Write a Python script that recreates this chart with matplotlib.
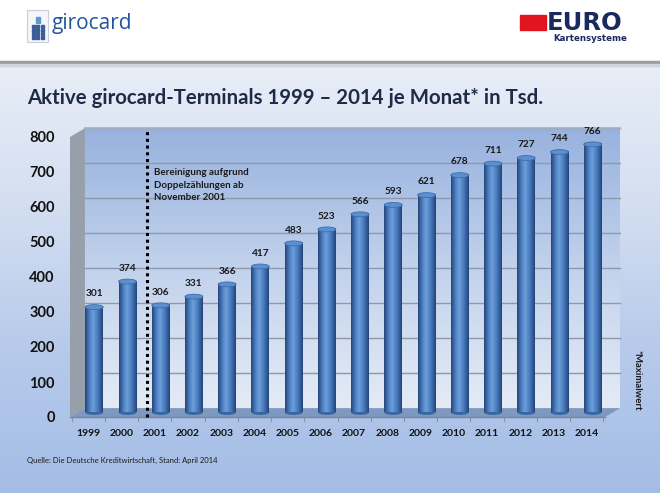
import numpy as np
import matplotlib
matplotlib.use("Agg")
import matplotlib.pyplot as plt
from matplotlib.patches import Polygon, Rectangle, Ellipse
from matplotlib.colors import LinearSegmentedColormap

plt.rcParams['font.family'] = ['Lato', 'DejaVu Sans']

years = ['1999', '2000', '2001', '2002', '2003', '2004', '2005', '2006',
         '2007', '2008', '2009', '2010', '2011', '2012', '2013', '2014']
values = [301, 374, 306, 331, 366, 417, 483, 523, 566, 593, 621, 678, 711, 727, 744, 766]
yticks = [0, 100, 200, 300, 400, 500, 600, 700, 800]

title = "Aktive girocard-Terminals 1999 \u2013 2014 je Monat* in Tsd."
note = "Bereinigung aufgrund\nDoppelzählungen ab\nNovember 2001"
source = "Quelle: Die Deutsche Kreditwirtschaft, Stand: April 2014"

W, H = 660, 493
fig = plt.figure(figsize=(W / 100, H / 100), dpi=100)

# ---- background ----
bg = fig.add_axes([0, 0, 1, 1], zorder=0)
bg.set_xlim(0, W); bg.set_ylim(H, 0); bg.axis('off')
grad = np.linspace(0, 1, 256)[:, None]
bgcmap = LinearSegmentedColormap.from_list('bg', ['#E9EEF7', '#D3DEF1', '#B7CAEB', '#A4BDE6'])
bg.imshow(grad, extent=[0, W, H, 64], cmap=bgcmap, aspect='auto', zorder=0)
bg.add_patch(Rectangle((0, 0), W, 62, color='white', zorder=1))
bg.add_patch(Rectangle((0, 61), W, 3, color='#9C9C9C', zorder=2))
bg.add_patch(Rectangle((0, 64), W, 2, color='#D0D5DC', zorder=2))

# girocard logo
bg.add_patch(Rectangle((27, 10), 21, 32, facecolor='#F4F6FA', edgecolor='#C8CDD6', lw=0.8, zorder=3))
bg.add_patch(Rectangle((36, 17), 4, 6, color='#5C9AD6', zorder=4))
for r in range(4):
    for c in range(3):
        bg.add_patch(Rectangle((31.5 + c * 4.5, 25 + r * 3.8), 3.2, 2.8, color='#3B5E9A', zorder=4))
bg.text(52, 24, 'girocard', fontsize=15, color='#21569E', va='center', ha='left',
        family=['Open Sans', 'DejaVu Sans'], zorder=5)

# EURO logo
bg.add_patch(Rectangle((520, 15), 26, 15, color='#E2141F', zorder=3))
bg.text(547, 23, 'EURO', fontsize=17.5, color='#1B2A5E', weight='heavy', va='center', ha='left',
        family=['DejaVu Sans'], zorder=5)
bg.text(590, 38.5, 'Kartensysteme', fontsize=6.2, color='#1B2A5E', weight='bold', va='center', ha='center',
        family=['DejaVu Sans'], zorder=5)

# titles / notes
fig.text(27 / W, 1 - 98 / H, title, fontsize=14.7, weight='bold', color='#1E2B47', va='center', ha='left')
fig.text(27 / W, 1 - 460 / H, source, fontsize=5.5, color='#1A1A1A', va='center', ha='left')
fig.text(637 / W, 1 - 380 / H, '*Maximalwert', fontsize=6.8, weight='bold', color='#1A1A1A',
         va='center', ha='center', rotation=270)

# ---- chart axes ----
x0, x1 = -0.55, 15.55
ax = fig.add_axes([70 / W, 1 - 417 / H, 535 / W, 280 / H], zorder=2)
ax.patch.set_alpha(0)
n = len(years)
xs = np.arange(n)
dx, dy = 0.45, 25.0   # depth offset (data units)

# left wall
lcmap = LinearSegmentedColormap.from_list('lw', ['#8A93A0', '#A4ACB7'])
ax.add_patch(Polygon([(x0, 0), (x0 + dx, dy), (x0 + dx, 800 + dy), (x0, 800)], closed=True,
                     facecolor='#979FAB', edgecolor='none', zorder=1, clip_on=False))
# back wall gradient
wcmap = LinearSegmentedColormap.from_list('wall', ['#E4EBF6', '#C2D2EC', '#98B2DF'])
ax.imshow(np.linspace(0, 1, 256)[:, None], extent=[x0 + dx, x1 + dx, dy, 800 + dy], origin='lower',
          cmap=wcmap, aspect='auto', zorder=1, clip_on=False)
for t in yticks[1:]:
    ax.plot([x0 + dx, x1 + dx], [t + dy, t + dy], color='#8D9AAE', lw=1, zorder=2, clip_on=False)
ax.plot([x0 + dx, x1 + dx], [800 + dy, 800 + dy], color='#A7B3C4', lw=1.2, zorder=2, clip_on=False)
# floor
ax.add_patch(Polygon([(x0, 0), (x1, 0), (x1 + dx, dy), (x0 + dx, dy)], closed=True,
                     facecolor='#7F98BD', edgecolor='none', zorder=2, clip_on=False))
ax.plot([x0, x1], [0, 0], color='#6F86A8', lw=1, zorder=2, clip_on=False)
for i in range(n + 1):
    xt = i - 0.5
    ax.plot([xt, xt], [0, -12], color='#8593A8', lw=0.8, zorder=2, clip_on=False)

# bars (cylinders)
bcmap = LinearSegmentedColormap.from_list('bar', [(0, '#24467A'), (0.25, '#4D80C3'), (0.45, '#6E9FDC'),
                                                  (0.7, '#4A7DBF'), (1, '#22457A')])
bw = 0.54
boff_x, boff_y = 0.18, 13.0
eh = 14.0
for i, v in zip(xs, values):
    xc = i + boff_x
    ax.imshow(np.linspace(0, 1, 64)[None, :], extent=[xc - bw / 2, xc + bw / 2, boff_y, v + boff_y],
              cmap=bcmap, aspect='auto', zorder=4, origin='lower')
    ax.add_patch(Ellipse((xc, boff_y), bw, eh, facecolor='#3A66A0', edgecolor='none', zorder=3.9))
    ax.add_patch(Ellipse((xc, v + boff_y), bw, eh, facecolor='#5C8FD0', edgecolor='#3E6EAC', lw=0.6, zorder=5))
    ax.text(xc, v + boff_y + 38, str(v), fontsize=7.3, weight='bold', color='#1A1A1A',
            ha='center', va='center', zorder=6)

# dotted separator between 2000 and 2001
sep = (years.index('2000') + years.index('2001')) / 2 + 0.28
ax.plot([sep, sep], [0, 800 + dy], color='black', lw=2.2, linestyle=(0, (1, 1.2)), zorder=6, clip_on=False)
ax.text(sep + 0.2, 710, note, fontsize=7, weight='bold', color='#1A1A1A', ha='left', va='top',
        linespacing=1.45, zorder=6)

ax.set_xlim(x0, x1)
ax.set_ylim(0, 800)
ax.set_xticks(xs)
ax.set_xticklabels(years, fontsize=7.5, weight='bold', color='#111111')
ax.set_yticks(yticks)
ax.set_yticklabels([str(t) for t in yticks], fontsize=10.5, weight='bold', color='#111111')
ax.tick_params(axis='both', length=0)
ax.tick_params(axis='y', pad=11)
ax.tick_params(axis='x', pad=9)
for s in ax.spines.values():
    s.set_visible(False)

fig.savefig('out.png', dpi=100)
